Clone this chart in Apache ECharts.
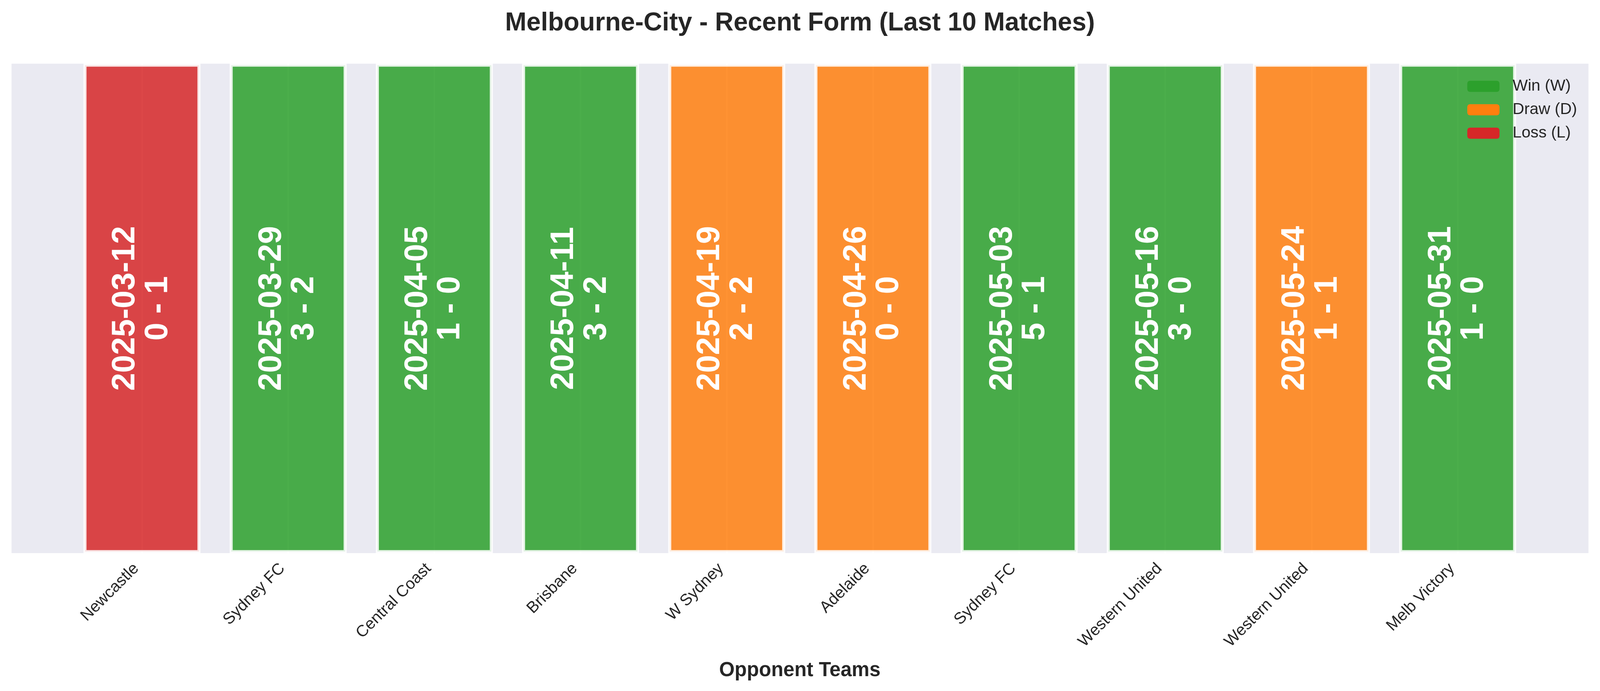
<!DOCTYPE html>
<html>
<head>
<meta charset="utf-8">
<script src="https://cdn.jsdelivr.net/npm/echarts@6/dist/echarts.min.js"></script>
<style>
html,body{margin:0;padding:0;background:#fff;overflow:hidden;width:100%;height:100%;}
#chart{width:100vw;height:100vh;}
</style>
</head>
<body>
<div id="chart"></div>
<script>
const teams = ['Newcastle','Sydney FC','Central Coast','Brisbane','W Sydney','Adelaide','Sydney FC','Western United','Western United','Melb Victory'];
const dates = ['2025-03-12','2025-03-29','2025-04-05','2025-04-11','2025-04-19','2025-04-26','2025-05-03','2025-05-16','2025-05-24','2025-05-31'];
const scores = ['0 - 1','3 - 2','1 - 0','3 - 2','2 - 2','0 - 0','5 - 1','3 - 0','1 - 1','1 - 0'];
const results = ['L','W','W','W','D','D','W','W','D','W'];
const barValue = 1;

const resultTypes = [
  {code:'W', name:'Win (W)', color:'#2ca02c', fill:'rgba(44,160,44,0.85)'},
  {code:'D', name:'Draw (D)', color:'#ff7f0e', fill:'rgba(255,127,14,0.85)'},
  {code:'L', name:'Loss (L)', color:'#d62728', fill:'rgba(214,39,40,0.85)'}
];
const FONT = "'Liberation Sans', Arial, Helvetica, sans-serif";

const el = document.getElementById('chart');
const W = el.clientWidth, H = el.clientHeight;
const sx = W / 4170, sy = H / 1769, sf = Math.min(sx, sy);
const X = v => v * sx, Y = v => v * sy, F = v => v * sf;

const chart = echarts.init(el, null, {renderer:'canvas'});

const series = resultTypes.map(rt => ({
  name: rt.name,
  type: 'bar',
  xAxisIndex: 1,
  yAxisIndex: 1,
  stack: 'form',
  barWidth: X(305),
  clip: false,
  itemStyle: {
    color: rt.fill,
    borderColor: 'rgba(255,255,255,0.85)',
    borderWidth: F(8)
  },
  label: {
    show: true,
    position: 'inside',
    rotate: 90,
    color: '#ffffff',
    fontFamily: FONT,
    fontWeight: 'bold',
    fontSize: F(84),
    lineHeight: F(85),
    align: 'center',
    verticalAlign: 'middle',
    formatter: p => dates[p.dataIndex] + '\n' + scores[p.dataIndex]
  },
  emphasis: {disabled: true},
  data: results.map(r => r === rt.code ? barValue : '-')
}));

chart.setOption({
  animation: false,
  backgroundColor: '#ffffff',
  title: {
    text: 'Melbourne-City - Recent Form (Last 10 Matches)',
    left: 'center',
    top: Y(22),
    textStyle: {fontFamily: FONT, fontWeight: 'bold', fontSize: F(67), lineHeight: F(67), color: '#262626'}
  },
  legend: {
    orient: 'vertical',
    left: X(3819),
    top: Y(186),
    itemWidth: F(84),
    itemHeight: F(29),
    itemGap: 0,
    textStyle: {fontFamily: FONT, fontSize: F(42), lineHeight: Y(60), color: '#262626', padding: [0,0,0,F(29)]},
    data: resultTypes.map(rt => ({name: rt.name, itemStyle: {color: rt.color, opacity: 1, borderWidth: 0}})),
    selectedMode: false
  },
  grid: [
    {left: X(30), right: X(30), top: Y(163), bottom: Y(353), show: true, backgroundColor: '#EAEAF2', borderWidth: 0},
    {left: X(370), right: X(371), top: Y(163), bottom: Y(353), show: false}
  ],
  xAxis: [
    {gridIndex: 0, type: 'value', show: false, min: 0, max: 1},
    {
      gridIndex: 1,
      type: 'category',
      boundaryGap: false,
      data: teams.map((t, i) => i),
      axisLine: {show: false},
      axisTick: {show: false},
      splitLine: {show: true, interval: 0, lineStyle: {color: '#ffffff', width: F(4)}},
      axisLabel: {
        interval: 0,
        rotate: 45,
        margin: F(19),
        padding: [0, F(21), 0, 0],
        fontFamily: FONT,
        fontSize: F(42),
        color: '#262626',
        formatter: (v, idx) => teams[idx]
      },
      name: 'Opponent Teams',
      nameLocation: 'middle',
      nameGap: Y(275),
      nameTextStyle: {fontFamily: FONT, fontWeight: 'bold', fontSize: F(52), lineHeight: F(52), color: '#262626'}
    }
  ],
  yAxis: [
    {gridIndex: 0, type: 'value', show: false, min: 0, max: 1},
    {gridIndex: 1, type: 'value', show: false, min: 0, max: 1, splitLine: {show: false}}
  ],
  series: series
});
</script>
</body>
</html>
